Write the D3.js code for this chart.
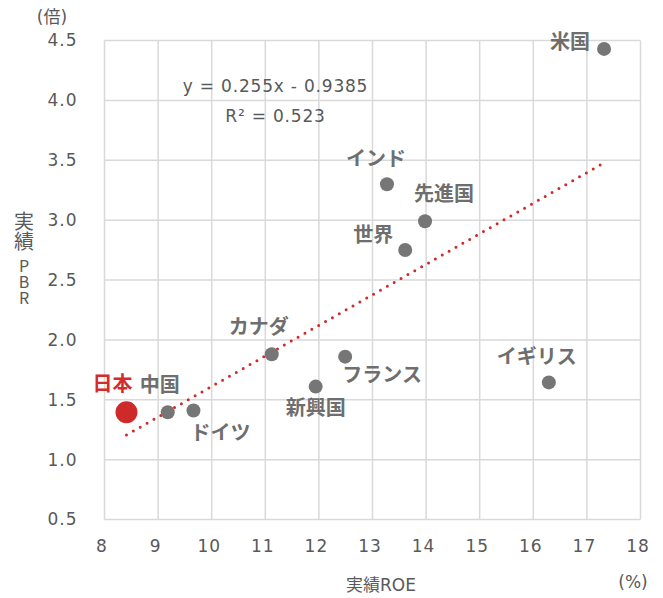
<!DOCTYPE html>
<html>
<head>
<meta charset="utf-8">
<script src="https://cdn.jsdelivr.net/npm/d3@7"></script>
<style>
    body { margin: 0; background: #fff; }
    svg text { font-family: "DejaVu Sans", "Noto Sans CJK JP", sans-serif; fill: #595959; }
    .lab { font-family: "Noto Sans CJK JP", sans-serif; font-weight: bold; font-size: 20px; fill: #6e6e6e; }
    .vtitle { font-family: "Noto Sans CJK JP", sans-serif; writing-mode: vertical-rl; text-orientation: upright; }
</style>
</head>
<body>
<div id="chart"></div>
<script>

// data
var names = ["米国", "インド", "先進国", "世界", "カナダ", "フランス",
    "新興国", "イギリス", "中国", "ドイツ", "日本"];
var roe = [17.32, 13.27, 13.98, 13.61, 11.12, 12.49, 11.94, 16.29, 9.18, 9.66, 8.41];
var pbr = [4.43, 3.30, 2.99, 2.75, 1.88, 1.86, 1.61, 1.645, 1.395, 1.41, 1.395];
var xTicks = [8, 9, 10, 11, 12, 13, 14, 15, 16, 17, 18];
var yTicks = [0.5, 1.0, 1.5, 2.0, 2.5, 3.0, 3.5, 4.0, 4.5];
var trend = [0.255, -0.9385]; // slope, intercept
var trendText = ["y = 0.255x - 0.9385", "R² = 0.523"];

// label offsets from the point (dx, dy), in px
var labelOffset = [[-34, -7], [-11, -25], [19, -28], [-32, -15], [-13, -27], [37, 18],
    [0, 21], [-12, -26], [-8, -28], [27, 22], [-14, -29]];

// core settings
var cfg = {
    w: 663,
    h: 598,
    left: 104.5, right: 640.5, top: 40.5, bottom: 519.5,
    grid: "#d9d9d9",
    dot: "#767676",
    red: "#cf2a2a",
    r: 7,
    rJapan: 11
};

var svg = d3.select("#chart").append("svg")
        .attr("width", cfg.w).attr("height", cfg.h);

var xscale = d3.scaleLinear().domain([8, 18]).range([cfg.left, cfg.right]);
var yscale = d3.scaleLinear().domain([0.5, 4.5]).range([cfg.bottom, cfg.top]);

// grid lines (vertical and horizontal)
svg.append("g").selectAll("line").data(xTicks).enter().append("line")
        .attr("x1", function (d) { return xscale(d); })
        .attr("x2", function (d) { return xscale(d); })
        .attr("y1", cfg.top).attr("y2", cfg.bottom)
        .attr("stroke", cfg.grid).attr("stroke-width", 1.5);
svg.append("g").selectAll("line").data(yTicks).enter().append("line")
        .attr("y1", function (d) { return yscale(d); })
        .attr("y2", function (d) { return yscale(d); })
        .attr("x1", cfg.left).attr("x2", cfg.right)
        .attr("stroke", cfg.grid).attr("stroke-width", 1.5);

// axes, lines hidden (grid does it)
var gx = svg.append("g").attr("transform", "translate(-3," + cfg.bottom + ")")
        .call(d3.axisBottom(xscale).tickValues(xTicks).tickSize(0).tickPadding(20));
var gy = svg.append("g").attr("transform", "translate(" + (cfg.left - 27) + ",0)")
        .call(d3.axisLeft(yscale).tickValues(yTicks).tickSize(0).tickPadding(0)
                .tickFormat(d3.format(".1f")));
svg.selectAll(".domain").remove();
gx.attr("font-family", null).attr("font-size", 17);
gy.attr("font-family", null).attr("font-size", 17);
svg.selectAll(".tick text").attr("fill", "#595959").attr("letter-spacing", 1);

// axis titles
svg.append("text").text("(倍)").attr("x", 52).attr("y", 23)
        .attr("text-anchor", "middle").attr("font-size", 17);
svg.append("text").text("(%)").attr("x", 633).attr("y", 588)
        .attr("text-anchor", "middle").attr("font-size", 17);
svg.append("text").text("実績ROE").attr("x", 381).attr("y", 591)
        .attr("text-anchor", "middle").attr("font-size", 17);

// vertical y title, one text element written top to bottom
var ytitle = svg.append("text").attr("class", "vtitle")
        .attr("x", 24).attr("y", 211);
ytitle.append("tspan").text("実績").style("font-size", "20px");
ytitle.append("tspan").text("PBR").attr("dy", 7).style("font-size", "16px");

// trend line, from min to max roe
var xr = d3.extent(roe);
svg.append("line")
        .attr("x1", xscale(xr[0])).attr("y1", yscale(trend[0] * xr[0] + trend[1]))
        .attr("x2", xscale(xr[1])).attr("y2", yscale(trend[0] * xr[1] + trend[1]))
        .attr("stroke", cfg.red).attr("stroke-width", 3)
        .attr("stroke-linecap", "round").attr("stroke-dasharray", "0,7.9");

// trend equation
svg.append("g").selectAll("text").data(trendText).enter().append("text")
        .text(function (d) { return d; })
        .attr("x", 275.5)
        .attr("y", function (d, i) { return 92 + i * 30; })
        .attr("text-anchor", "middle").attr("font-size", 17)
        .attr("letter-spacing", 0.8);

// points
var pts = d3.range(names.length);
svg.append("g").selectAll("circle").data(pts).enter().append("circle")
        .attr("cx", function (i) { return xscale(roe[i]); })
        .attr("cy", function (i) { return yscale(pbr[i]); })
        .attr("r", function (i) { return names[i] === "日本" ? cfg.rJapan : cfg.r; })
        .attr("fill", function (i) { return names[i] === "日本" ? cfg.red : cfg.dot; });

// point labels
svg.append("g").selectAll("text").data(pts).enter().append("text")
        .attr("class", "lab")
        .text(function (i) { return names[i]; })
        .attr("x", function (i) { return xscale(roe[i]) + labelOffset[i][0]; })
        .attr("y", function (i) { return yscale(pbr[i]) + labelOffset[i][1]; })
        .attr("dy", "0.36em")
        .attr("text-anchor", "middle")
        .style("fill", function (i) { return names[i] === "日本" ? "#d42b2b" : null; });

</script>
</body>
</html>
